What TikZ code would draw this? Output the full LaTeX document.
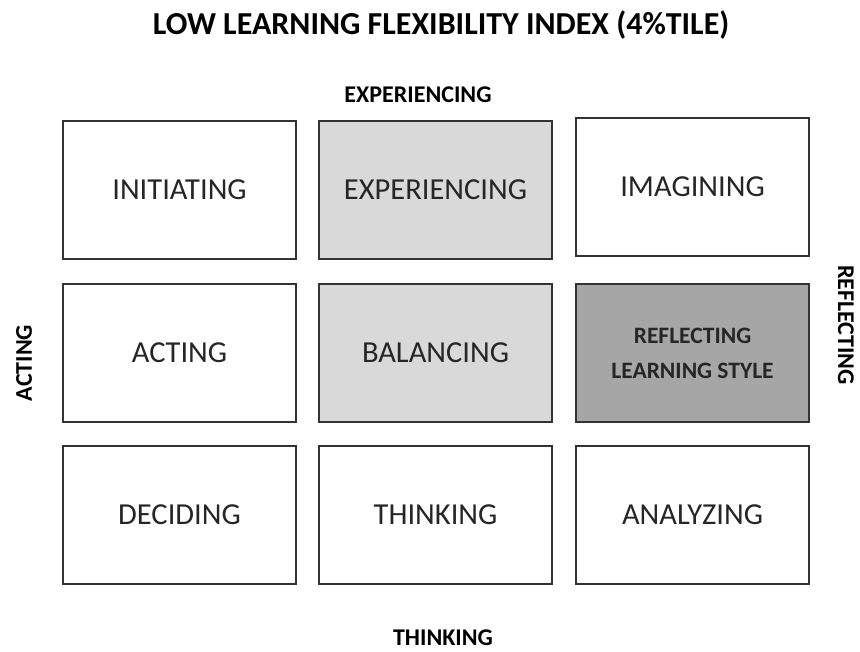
\documentclass[tikz,border=0pt]{standalone}
\usepackage{fontspec}
\setmainfont{Carlito}
\tikzset{
  cell/.style={draw=black!80, line width=1.5pt, minimum width=233pt,
    minimum height=138pt, inner sep=0pt, text=black!85,
    font=\fontsize{30.5}{34}\selectfont},
  lightcell/.style={cell, fill=black!15},
  darkcell/.style={cell, fill=black!35, align=center,
    font=\bfseries\fontsize{23.5}{35}\selectfont},
  axislabel/.style={font=\bfseries\fontsize{24}{28}\selectfont},
}
\begin{document}
\begin{tikzpicture}[x=1pt, y=-1pt]
    \useasboundingbox (0,0) rectangle (860,652);

    % the nine style boxes
    \node [cell] (init) at (179.5,190) {INITIATING};
    \node [lightcell] (exper) at (435.5,190) {EXPERIENCING};
    \node [cell] (imag) at (692.5,187) {IMAGINING};
    \node [cell] (act) at (179.5,353) {ACTING};
    \node [lightcell] (bal) at (435.5,353) {BALANCING};
    \node [darkcell] (refl) at (692.5,353) {REFLECTING\\LEARNING STYLE};
    \node [cell] (dec) at (179.5,515) {DECIDING};
    \node [cell] (think) at (435.5,515) {THINKING};
    \node [cell] (anal) at (692.5,515) {ANALYZING};

    % add labels
    \node [font=\bfseries\fontsize{32}{36}\selectfont] (title) at (441,25)
      {LOW LEARNING FLEXIBILITY INDEX (4\%TILE)};
    \node [axislabel] (toplabel) at (418,95) {EXPERIENCING};
    \node [axislabel] (bottomlabel) at (443,638) {THINKING};
    \node [axislabel, rotate=90] (leftlabel) at (24,363) {ACTING};
    \node [axislabel, rotate=-90] (rightlabel) at (846,325) {REFLECTING};
\end{tikzpicture}
\end{document}
